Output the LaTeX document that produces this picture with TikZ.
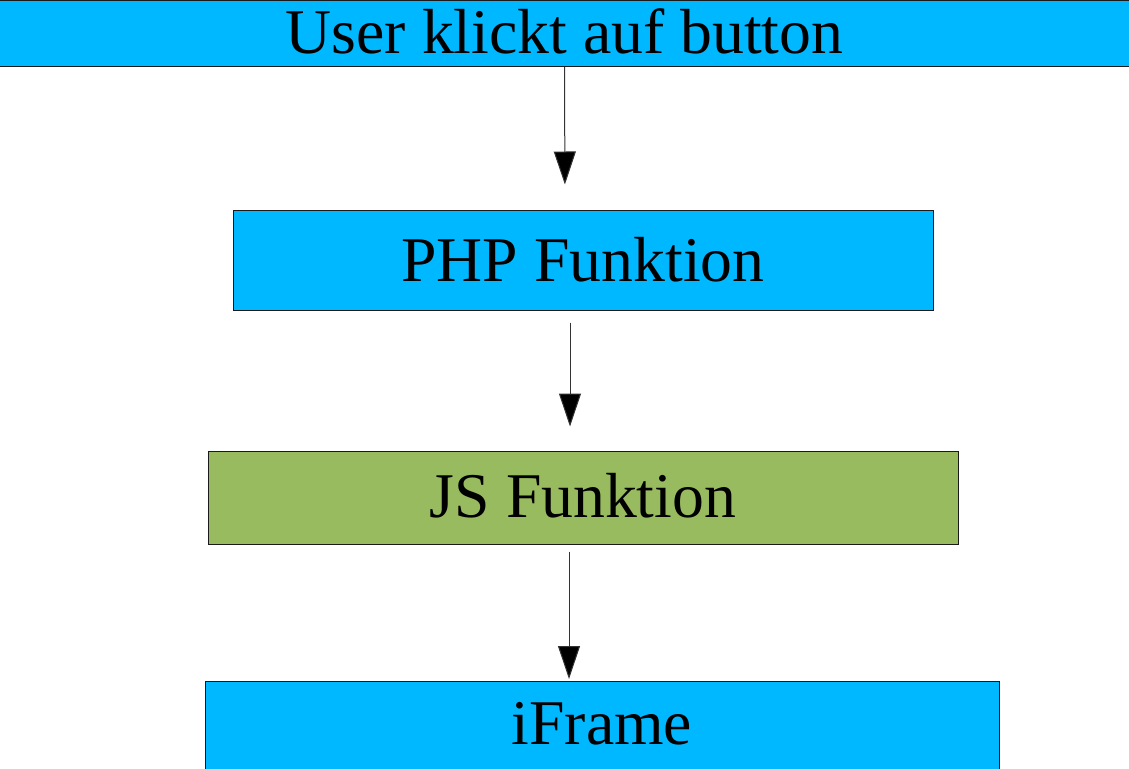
\documentclass[tikz,border=0pt]{standalone}
\usepackage{fontspec}
\setmainfont{Liberation Serif}
\usetikzlibrary{arrows.meta}
\definecolor{boxcyan}{HTML}{00B8FF}
\definecolor{boxgreen}{HTML}{99BB5F}
\definecolor{edge}{HTML}{1A1A1A}
\begin{document}
\begin{tikzpicture}[x=1pt,y=-1pt,
  box/.style={draw=edge,line width=1pt,rectangle,inner sep=0pt,
    font=\fontsize{63.7}{70}\selectfont,text height=42pt,text depth=0pt},
  flow/.style={draw=black!80,line width=1pt,-{Triangle[width=22pt,length=33pt,fill=black]}}]
\useasboundingbox (0,0) rectangle (1129,768);
\fill[white] (0,0) rectangle (1129,768);
\node[box,fill=boxcyan,minimum width=1140pt,minimum height=66pt,text height=41pt] (top) at (564.5,33.5) {User klickt auf button};
\node[box,fill=boxcyan,minimum width=700pt,minimum height=100pt] (php) at (583,260) {PHP Funktion};
\node[box,fill=boxgreen,minimum width=750pt,minimum height=93pt,text height=39pt] (js) at (583,497.5) {JS Funktion};
\node[box,fill=boxcyan,minimum width=794pt,minimum height=120pt,text depth=36pt] (ifr) at (602,741) {iFrame};
\draw[flow,shorten >=25pt] (top.south) -- ([xshift=-18pt]php.north);
\draw[flow,shorten <=12pt,shorten >=24pt] ([xshift=-13pt]php.south) -- ([xshift=-13pt]js.north);
\draw[flow,shorten <=7pt,shorten >=1.5pt] ([xshift=-14pt]js.south) -- ([xshift=-33pt]ifr.north);
\end{tikzpicture}
\end{document}
